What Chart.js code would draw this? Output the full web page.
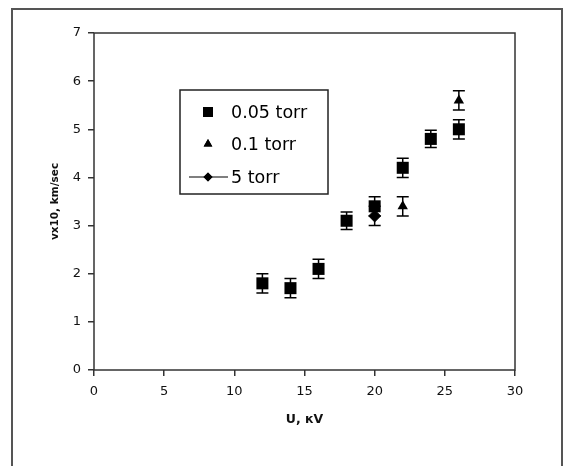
<!DOCTYPE html>
<html>
<head>
<meta charset="utf-8">
<script src="https://cdn.jsdelivr.net/npm/chart.js@4"></script>
<style>
  html, body { margin: 0; padding: 0; background: #fff; }
  #wrap { width: 564px; height: 466px; }
</style>
</head>
<body>
<div id="wrap"><canvas id="chart" width="564" height="466"></canvas></div>
<script>
// data
const uSquare = [12, 14, 16, 18, 20, 22, 24, 26];
const vSquare = [1.8, 1.7, 2.1, 3.1, 3.4, 4.2, 4.8, 5.0];
const errSquare = [0.2, 0.2, 0.2, 0.18, 0.2, 0.2, 0.18, 0.2];

const uTri = [22, 26];
const vTri = [3.4, 5.6];
const errTri = [0.2, 0.2];

const uDia = [20];
const vDia = [3.2];
const errDia = [0.2];

const xTicks = [0, 5, 10, 15, 20, 25, 30];
const yTicks = [0, 1, 2, 3, 4, 5, 6, 7];

const labels = ['0.05 torr', '0.1 torr', '5 torr'];

const FONT = '"DejaVu Sans", Verdana, sans-serif';

function points(xs, ys, es) {
    return xs.map((x, i) => ({ x: x, y: ys[i], e: es[i] }));
}

// frame around the whole picture + box around plot area
const framePlugin = {
    id: 'frame',
    beforeDraw(chart) {
        const ctx = chart.ctx;
        ctx.save();
        ctx.strokeStyle = '#555';
        ctx.lineWidth = 2;
        ctx.strokeRect(12, 9, 550, 470);
        ctx.restore();
    },
    afterDatasetsDraw(chart) {
        const { ctx, chartArea: a } = chart;
        ctx.save();
        ctx.strokeStyle = '#333';
        ctx.lineWidth = 1.5;
        ctx.strokeRect(a.left, a.top, a.right - a.left, a.bottom - a.top);
        ctx.restore();
    }
};

// vertical error bars with caps
const errorBars = {
    id: 'errorBars',
    beforeDatasetsDraw(chart) {
        const ctx = chart.ctx;
        const xs = chart.scales.x, ys = chart.scales.y;
        ctx.save();
        ctx.strokeStyle = '#000';
        ctx.lineWidth = 1.5;
        chart.data.datasets.forEach(ds => {
            ds.data.forEach(p => {
                const px = xs.getPixelForValue(p.x);
                const top = ys.getPixelForValue(p.y + p.e);
                const bot = ys.getPixelForValue(p.y - p.e);
                ctx.beginPath();
                ctx.moveTo(px, top); ctx.lineTo(px, bot);
                ctx.moveTo(px - 6, top); ctx.lineTo(px + 6, top);
                ctx.moveTo(px - 6, bot); ctx.lineTo(px + 6, bot);
                ctx.stroke();
            });
        });
        ctx.restore();
    }
};

// boxed legend inside the plot, Excel style
const boxLegend = {
    id: 'boxLegend',
    afterDraw(chart) {
        const ctx = chart.ctx;
        const bx = 180, by = 90, bw = 148, bh = 104;
        ctx.save();
        ctx.fillStyle = '#fff';
        ctx.fillRect(bx, by, bw, bh);
        ctx.strokeStyle = '#222';
        ctx.lineWidth = 1.5;
        ctx.strokeRect(bx, by, bw, bh);
        ctx.font = '17.5px ' + FONT;
        ctx.textBaseline = 'middle';
        ctx.fillStyle = '#000';
        const rows = [112, 144, 177];
        chart.data.datasets.forEach((ds, i) => {
            const y = rows[i];
            const mx = 208;
            if (ds.showLine) {
                ctx.beginPath();
                ctx.strokeStyle = '#000';
                ctx.lineWidth = 1.2;
                ctx.moveTo(189, y); ctx.lineTo(228, y);
                ctx.stroke();
            }
            Chart.helpers.drawPoint(ctx, {
                pointStyle: ds.pointStyle,
                radius: ds.legendRadius,
                borderWidth: 0
            }, mx, y);
            ctx.fillStyle = '#000';
            ctx.fill();
            ctx.fillText(ds.label, 231, y + 1);
        });
        ctx.restore();
    }
};

new Chart(document.getElementById('chart'), {
    type: 'scatter',
    data: {
        datasets: [
            { label: labels[0], data: points(uSquare, vSquare, errSquare), pointStyle: 'rect',
              pointRadius: 8.5, legendRadius: 7, backgroundColor: '#000', borderColor: '#000', borderWidth: 0 },
            { label: labels[1], data: points(uTri, vTri, errTri), pointStyle: 'triangle',
              pointRadius: 6, legendRadius: 5, backgroundColor: '#000', borderColor: '#000', borderWidth: 0 },
            { label: labels[2], data: points(uDia, vDia, errDia), pointStyle: 'rectRot', showLine: true,
              pointRadius: 6, legendRadius: 4.5, backgroundColor: '#000', borderColor: '#000', borderWidth: 1 }
        ]
    },
    options: {
        responsive: false,
        animation: false,
        layout: { padding: { top: 33, right: 49, left: 0, bottom: 0 } },
        plugins: { legend: { display: false }, tooltip: { enabled: false } },
        scales: {
            x: {
                type: 'linear', min: 0, max: 30,
                afterBuildTicks: s => { s.ticks = xTicks.map(v => ({ value: v })); },
                afterFit: s => { s.height = 96; },
                grid: { drawOnChartArea: false, drawTicks: true, tickLength: 6, color: '#333', lineWidth: 1.5 },
                border: { display: false },
                ticks: { color: '#111', font: { family: FONT, size: 13 }, padding: 8, maxRotation: 0 },
                title: { display: true, text: 'U, кV', color: '#111',
                         font: { family: FONT, size: 12.5, weight: 'bold' },
                         padding: { top: 0, bottom: 39 } }
            },
            y: {
                type: 'linear', min: 0, max: 7,
                afterBuildTicks: s => { s.ticks = yTicks.map(v => ({ value: v })); },
                afterFit: s => { s.width = 94; },
                grid: { drawOnChartArea: false, drawTicks: true, tickLength: 6, color: '#333', lineWidth: 1.5 },
                border: { display: false },
                ticks: { color: '#111', font: { family: FONT, size: 13 }, padding: 7 },
                title: { display: true, text: 'vx10, km/sec', color: '#111',
                         font: { family: FONT, size: 10.5, weight: 'bold' },
                         padding: { top: 49, bottom: 0 } }
            }
        }
    },
    plugins: [framePlugin, errorBars, boxLegend]
});
</script>
</body>
</html>
